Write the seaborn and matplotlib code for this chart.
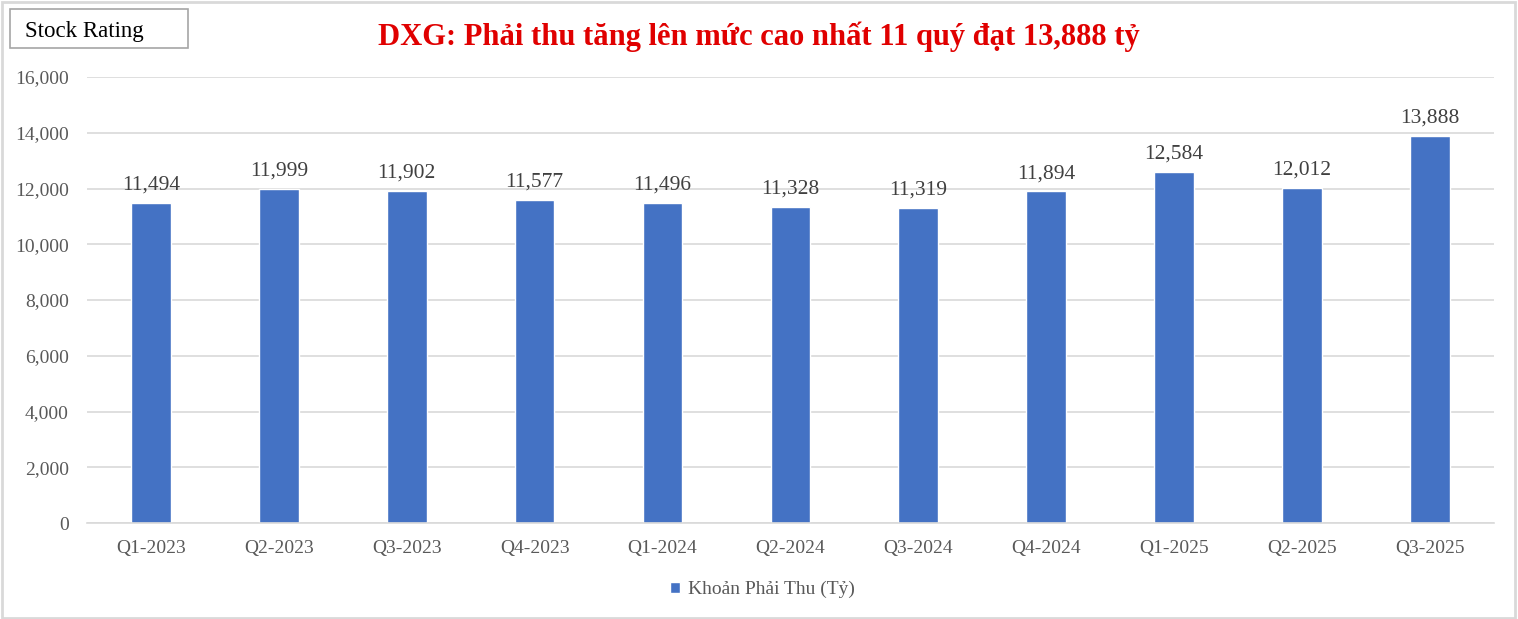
import pandas as pd
import matplotlib.pyplot as plt
import seaborn as sns
from matplotlib.patches import Rectangle
from matplotlib.ticker import FuncFormatter

quarters = ['Q1-2023', 'Q2-2023', 'Q3-2023', 'Q4-2023', 'Q1-2024', 'Q2-2024',
            'Q3-2024', 'Q4-2024', 'Q1-2025', 'Q2-2025', 'Q3-2025']
receivables = [11494, 11999, 11902, 11577, 11496, 11328, 11319, 11894, 12584, 12012, 13888]
series_name = 'Khoản Phải Thu (Tỷ)'
title = 'DXG: Phải thu tăng lên mức cao nhất 11 quý đạt 13,888 tỷ'
y_ticks = list(range(0, 16001, 2000))

sns.set_theme(style='white')
plt.rcParams['font.family'] = ['Liberation Serif', 'DejaVu Serif']

df = pd.DataFrame({'Quarter': quarters, 'Value': receivables, 'Series': series_name})

fig = plt.figure(figsize=(15.18, 6.19), dpi=100)
ax = fig.add_axes([0.0573, 0.155, 0.9267, 0.7206])

bar_color = '#4472C4'
sns.barplot(data=df, x='Quarter', y='Value', hue='Series', palette=[bar_color],
            width=0.31, ax=ax, legend=True, saturation=1)

ax.set_ylim(0, 16000)
ax.set_xlim(-0.5, len(quarters) - 0.5)
ax.set_yticks(y_ticks)
ax.yaxis.set_major_formatter(FuncFormatter(lambda v, p: f'{int(v):,}'))
ax.grid(axis='y', color='#d9d9d9', linewidth=1.2)
ax.set_axisbelow(True)
for s in ['top', 'right', 'left']:
    ax.spines[s].set_visible(False)
ax.spines['bottom'].set_color('#d9d9d9')
ax.spines['bottom'].set_linewidth(1.2)
ax.tick_params(axis='both', length=0, labelsize=14, labelcolor='#595959')
ax.tick_params(axis='x', pad=12)
ax.tick_params(axis='y', pad=13)
ax.set_xlabel('')
ax.set_ylabel('')

for container in ax.containers:
    ax.bar_label(container, labels=[f'{v:,}' for v in receivables],
                 padding=6, fontsize=15.5, color='#404040')

leg = ax.legend(loc='upper center', bbox_to_anchor=(0.48, -0.09), frameon=False,
                fontsize=14, handlelength=0.5, handleheight=0.5, handletextpad=0.4)
for t in leg.get_texts():
    t.set_color('#595959')

fig.text(0.5, 0.94, title, ha='center', va='center', fontsize=22,
         fontweight='bold', color='#e00000')

fig.patches.append(Rectangle((10 / 1518, 1 - 48 / 619), 178 / 1518, 39 / 619,
                             transform=fig.transFigure, fill=False,
                             edgecolor='#a6a6a6', linewidth=1.2))
fig.text(25 / 1518, 1 - 31 / 619, 'Stock Rating', ha='left', va='center',
         fontsize=16.5, color='black')

fig.patches.append(Rectangle((0.001, 0.002), 0.997, 0.995, transform=fig.transFigure,
                             fill=False, edgecolor='#d9d9d9', linewidth=2))

fig.savefig('out.png', dpi=100, facecolor='white')
